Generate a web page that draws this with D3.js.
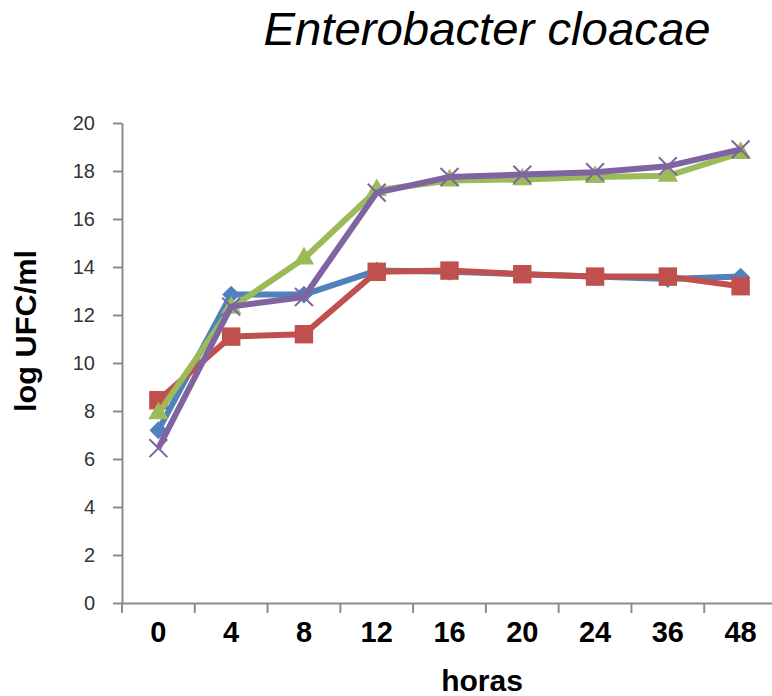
<!DOCTYPE html>
<html>
<head>
<meta charset="utf-8">
<script src="https://cdn.jsdelivr.net/npm/d3@7"></script>
<style>
  body { margin: 0; background: #fff; }
  svg { display: block; }
</style>
</head>
<body>
<svg width="772" height="696"></svg>
<script>
// values
const horas = ['0', '4', '8', '12', '16', '20', '24', '36', '48']
const yTicks = [0, 2, 4, 6, 8, 10, 12, 14, 16, 18, 20]

const blue = [7.2, 12.85, 12.85, 13.85, 13.8, 13.7, 13.6, 13.5, 13.6]
const red = [8.45, 11.1, 11.2, 13.8, 13.85, 13.7, 13.6, 13.6, 13.2]
const green = [7.9, 12.3, 14.35, 17.2, 17.6, 17.65, 17.75, 17.8, 18.75]
const purple = [6.45, 12.35, 12.75, 17.1, 17.75, 17.85, 17.95, 18.2, 18.9]

const series = [
  { values: blue, color: '#4F81BD', marker: 'diamond' },
  { values: red, color: '#C0504D', marker: 'square' },
  { values: green, color: '#9BBB59', marker: 'triangle' },
  { values: purple, color: '#8064A2', marker: 'x' }
]

const svg = d3.select('svg')

const x = d3.scaleBand()
  .domain(horas)
  .range([122, 777])
  .paddingInner(0)
  .paddingOuter(0)

const y = d3.scaleLinear()
  .domain([0, 20])
  .range([603, 123])

const axisColor = '#8c8c8c'
const font = 'Liberation Sans, Arial, sans-serif'

// title
svg.append('text')
  .attr('x', 487)
  .attr('y', 45)
  .attr('text-anchor', 'middle')
  .attr('font-family', font)
  .attr('font-style', 'italic')
  .attr('font-size', 46)
  .attr('textLength', 447)
  .attr('lengthAdjust', 'spacingAndGlyphs')
  .attr('fill', '#000')
  .text('Enterobacter cloacae')

// y axis
const gy = svg.append('g')
  .attr('transform', 'translate(122,0)')
  .call(d3.axisLeft(y)
    .tickValues(yTicks)
    .tickSize(9)
    .tickSizeOuter(0)
    .tickPadding(18))
gy.select('.domain').attr('stroke', axisColor).attr('stroke-width', 2)
gy.selectAll('.tick line').attr('stroke', axisColor).attr('stroke-width', 2)
gy.selectAll('.tick text')
  .attr('font-family', font)
  .attr('font-size', 20)
  .attr('fill', '#333')

// x axis, ticks on the band edges
const gx = svg.append('g')
  .attr('transform', 'translate(0,603)')
  .call(d3.axisBottom(x)
    .tickSize(10)
    .tickSizeOuter(0)
    .tickPadding(8))
gx.select('.domain').attr('stroke', axisColor).attr('stroke-width', 2)
gx.selectAll('.tick line')
  .attr('stroke', axisColor)
  .attr('stroke-width', 2)
  .attr('x1', -x.bandwidth() / 2)
  .attr('x2', -x.bandwidth() / 2)
gx.selectAll('.tick text')
  .attr('font-family', font)
  .attr('font-weight', 'bold')
  .attr('font-size', 29)
  .attr('fill', '#000')

// axis titles
svg.append('text')
  .attr('x', 482)
  .attr('y', 691)
  .attr('text-anchor', 'middle')
  .attr('font-family', font)
  .attr('font-weight', 'bold')
  .attr('font-size', 30)
  .text('horas')

svg.append('text')
  .attr('transform', 'translate(36,331) rotate(-90)')
  .attr('text-anchor', 'middle')
  .attr('font-family', font)
  .attr('font-weight', 'bold')
  .attr('font-size', 30)
  .attr('textLength', 162)
  .attr('lengthAdjust', 'spacingAndGlyphs')
  .text('log UFC/ml')

// lines and markers
const line = d3.line()
  .x((d, i) => x(horas[i]) + x.bandwidth() / 2)
  .y(d => y(d))

const symbols = {
  diamond: d3.symbol().type(d3.symbolSquare).size(160),
  square: d3.symbol().type(d3.symbolSquare).size(340),
  triangle: d3.symbol().type(d3.symbolTriangle).size(180),
  x: d3.symbol().type(d3.symbolX).size(210)
}

series.forEach(s => {
  const g = svg.append('g')
  g.append('path')
    .datum(s.values)
    .attr('fill', 'none')
    .attr('stroke', s.color)
    .attr('stroke-width', 6)
    .attr('stroke-linejoin', 'round')
    .attr('d', line)

  g.selectAll('path.marker')
    .data(s.values)
    .enter().append('path')
    .attr('class', 'marker')
    .attr('d', symbols[s.marker])
    .attr('transform', (d, i) => {
      const t = `translate(${x(horas[i]) + x.bandwidth() / 2},${y(d)})`
      return s.marker === 'diamond' ? t + ' rotate(45)' : t
    })
    .attr('fill', s.marker === 'x' ? 'none' : s.color)
    .attr('stroke', s.color)
    .attr('stroke-width', s.marker === 'x' ? 2 : 0)
})
</script>
</body>
</html>
